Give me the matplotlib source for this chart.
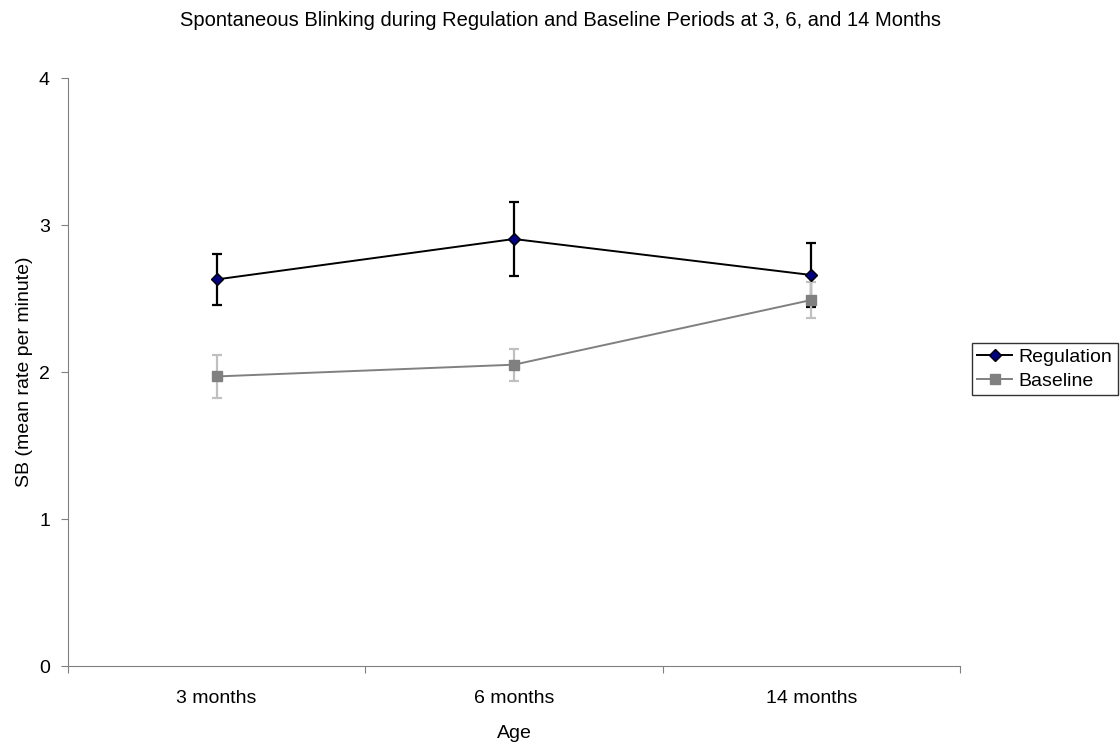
import matplotlib.pyplot as plt

plt.rcParams['font.family'] = ['Liberation Sans', 'DejaVu Sans']

ages = ["3 months", "6 months", "14 months"]
regulation = [2.63, 2.905, 2.66]
regulation_err = [0.175, 0.255, 0.22]
baseline = [1.97, 2.05, 2.49]
baseline_err = [0.145, 0.11, 0.12]

fig = plt.figure(figsize=(11.2, 7.44), dpi=100)
ax = fig.add_axes([0.0607, 0.1048, 0.7964, 0.7903])

x = [i + 0.5 for i in range(len(ages))]

ax.errorbar(x, regulation, yerr=regulation_err, fmt="none", ecolor="black",
            elinewidth=1.6, capsize=3.5, capthick=1.6, zorder=2)
ax.errorbar(x, baseline, yerr=baseline_err, fmt="none", ecolor="#c0c0c0",
            elinewidth=1.6, capsize=3.5, capthick=1.6, zorder=2)
ax.plot(x, regulation, color="black", lw=1.4, marker="D", markersize=6,
        markerfacecolor="#000080", markeredgecolor="black", label="Regulation", zorder=3)
ax.plot(x, baseline, color="#808080", lw=1.4, marker="s", markersize=7,
        markerfacecolor="#808080", markeredgecolor="#808080", label="Baseline", zorder=3)

ax.set_xlim(0, 3)
ax.set_ylim(0, 4)
ax.set_yticks([0, 1, 2, 3, 4])
ax.set_xticks([0, 1, 2, 3])
ax.set_xticklabels([])
ax.set_xticks(x, minor=True)
ax.set_xticklabels(ages, minor=True)
ax.tick_params(axis="x", which="major", length=5, direction="out", color="#808080")
ax.tick_params(axis="x", which="minor", length=0, pad=17, labelsize=14)
ax.tick_params(axis="y", length=5, direction="out", color="#808080", labelsize=14, pad=8)

for s in ["top", "right"]:
    ax.spines[s].set_visible(False)
for s in ["left", "bottom"]:
    ax.spines[s].set_color("#808080")

ax.set_xlabel("Age", fontsize=14, labelpad=13)
ax.set_ylabel("SB (mean rate per minute)", fontsize=14, labelpad=4)
fig.suptitle("Spontaneous Blinking during Regulation and Baseline Periods at 3, 6, and 14 Months",
             fontsize=14.5, y=0.985)

leg = ax.legend(loc="center left", bbox_to_anchor=(1.013, 0.505), frameon=True,
                fancybox=False, edgecolor="black", fontsize=14, handlelength=1.8,
                handletextpad=0.3, borderpad=0.3, labelspacing=0.3, borderaxespad=0)
leg.get_frame().set_linewidth(1)

fig.savefig("out.png", dpi=100)
